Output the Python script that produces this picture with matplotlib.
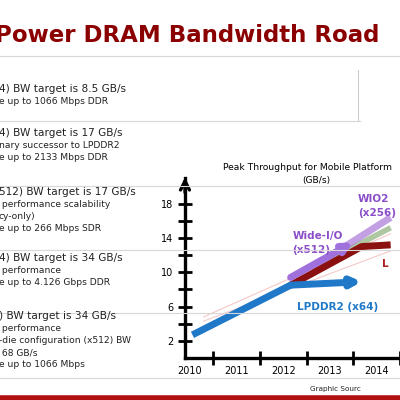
import matplotlib
matplotlib.use("Agg")
import matplotlib.pyplot as plt
from matplotlib.lines import Line2D

years = [2010, 2011, 2012, 2013, 2014]
yticks_major = [2, 6, 10, 14, 18]
yticks_minor = [4, 8, 12, 16]
lpddr2_x = [2010.06, 2012.16, 2013.68]
lpddr2_y = [2.7, 8.5, 8.9]
lpddr3_x = [2012.16, 2013.68, 2014.3]
lpddr3_y = [8.5, 13.0, 13.2]
wideio_x = [2012.16, 2013.5]
wideio_y = [9.4, 13.5]
wio2_x = [2012.6, 2014.3]
wio2_y = [10.5, 16.4]
green_x = [2013.0, 2014.3]
green_y = [11.5, 15.2]

rows = [
    (89, ["4) BW target is 8.5 GB/s", "e up to 1066 Mbps DDR"]),
    (133, ["4) BW target is 17 GB/s", "nary successor to LPDDR2", "e up to 2133 Mbps DDR"]),
    (192, ["512) BW target is 17 GB/s", " performance scalability", "cy-only)", "e up to 266 Mbps SDR"]),
    (258, ["4) BW target is 34 GB/s", " performance", "e up to 4.126 Gbps DDR"]),
    (316, [") BW target is 34 GB/s", " performance", "-die configuration (x512) BW", " 68 GB/s", "e up to 1066 Mbps"]),
]

fig = plt.figure(figsize=(4, 4), dpi=100)
W = H = 400.0
def fy(p): return 1 - p / H

fig.text(-0.012, fy(35), "Power DRAM Bandwidth Road", color="#8b0000", fontsize=16.5,
         fontweight="bold", va="center", ha="left", family="DejaVu Sans")
for yy in [56, 121, 186, 250, 313, 378]:
    xe = 0.9 if yy == 121 else 1.0
    fig.add_artist(Line2D([0, xe], [fy(yy), fy(yy)], color="#d8d8d8", lw=0.8))
fig.add_artist(Line2D([0.895, 0.895], [fy(70), fy(120)], color="#cccccc", lw=0.8))
fig.add_artist(Line2D([0, 1], [fy(398), fy(398)], color="#b01010", lw=4))
for y0, lines in rows:
    for i, t in enumerate(lines):
        fs = 7.6 if i == 0 else 6.6
        fig.text(-0.003, fy(y0 + i * 12.2), t, fontsize=fs, va="center", ha="left", color="#222222")
fig.text(0.775, fy(389), "Graphic Sourc", fontsize=5.2, va="center", ha="left", color="#222")
fig.text(0.557, fy(167), "Peak Throughput for Mobile Platform", fontsize=6.6, ha="left", va="center")
fig.text(0.79, fy(181), "(GB/s)", fontsize=6.6, ha="center", va="center")

ax = fig.add_axes([185 / W, 1 - 358 / H, 215 / W, 180 / H])
ax.set_xlim(2009.9, 2014.24)
ax.set_ylim(0, 21)
for s in ["top", "right"]:
    ax.spines[s].set_visible(False)
ax.spines["left"].set_linewidth(2.4)
ax.spines["bottom"].set_linewidth(2.4)
ax.set_facecolor("none")
ax.set_xticks([y + 0.5 for y in years[:-1]] + [2014.5])
ax.set_xticklabels([])
ax.set_xticks(years, minor=True)
ax.set_xticklabels([str(y) for y in years], minor=True, fontsize=7)
ax.tick_params(axis="x", which="minor", length=0, pad=6)
ax.tick_params(axis="x", which="major", direction="inout", length=10, width=2)
ax.set_yticks(yticks_major)
ax.set_yticklabels([str(v) for v in yticks_major], fontsize=7)
ax.set_yticks(yticks_minor, minor=True)
ax.tick_params(axis="y", which="both", direction="inout", length=10, width=2)
ax.annotate("", xy=(2009.9, 21.4), xytext=(2009.9, 19.0), xycoords="data",
            arrowprops=dict(arrowstyle="->", lw=2.4, color="black", mutation_scale=16), annotation_clip=False)

ax.plot([2010.3, 2014.3], [4.8, 14.5], color="#f4c8c8", lw=0.8)
ax.plot([2010.3, 2014.3], [4.3, 12.5], color="#f4c8c8", lw=0.8)
ax.plot(green_x, green_y, color="#9ab98a", lw=4, alpha=0.8, solid_capstyle="butt")
ax.plot(wio2_x, wio2_y, color="#a878d8", lw=5, alpha=0.7, solid_capstyle="butt")
ax.plot(lpddr3_x, lpddr3_y, color="#8b1010", lw=5, solid_capstyle="butt")
ax.annotate("", xy=(wideio_x[1], wideio_y[1]), xytext=(wideio_x[0], wideio_y[0]),
            arrowprops=dict(arrowstyle="-|>", lw=5, color="#a070dc", mutation_scale=13, shrinkA=0, shrinkB=0))
ax.plot(lpddr2_x[:2], lpddr2_y[:2], color="#1f78c8", lw=5, solid_capstyle="butt")
ax.annotate("", xy=(lpddr2_x[2], lpddr2_y[2]), xytext=(lpddr2_x[1], lpddr2_y[1]),
            arrowprops=dict(arrowstyle="-|>", lw=5, color="#1f78c8", mutation_scale=13, shrinkA=0, shrinkB=0))

ax.text(2012.3, 6.0, "LPDDR2 (x64)", color="#1f78c8", fontsize=7.5, fontweight="bold", ha="left", va="center")
ax.text(2012.2, 14.2, "Wide-I/O", color="#8a4fc8", fontsize=7.5, fontweight="bold", ha="left", va="center")
ax.text(2012.2, 12.6, "(x512)", color="#8a4fc8", fontsize=7.5, fontweight="bold", ha="left", va="center")
ax.text(2013.6, 18.5, "WIO2", color="#8a4fc8", fontsize=7.5, fontweight="bold", ha="left", va="center")
ax.text(2013.6, 16.9, "(x256)", color="#8a4fc8", fontsize=7.5, fontweight="bold", ha="left", va="center")
ax.text(2014.12, 11.0, "L", color="#b02020", fontsize=7.5, fontweight="bold", ha="left", va="center", clip_on=True)

fig.savefig("out.png", dpi=100)
